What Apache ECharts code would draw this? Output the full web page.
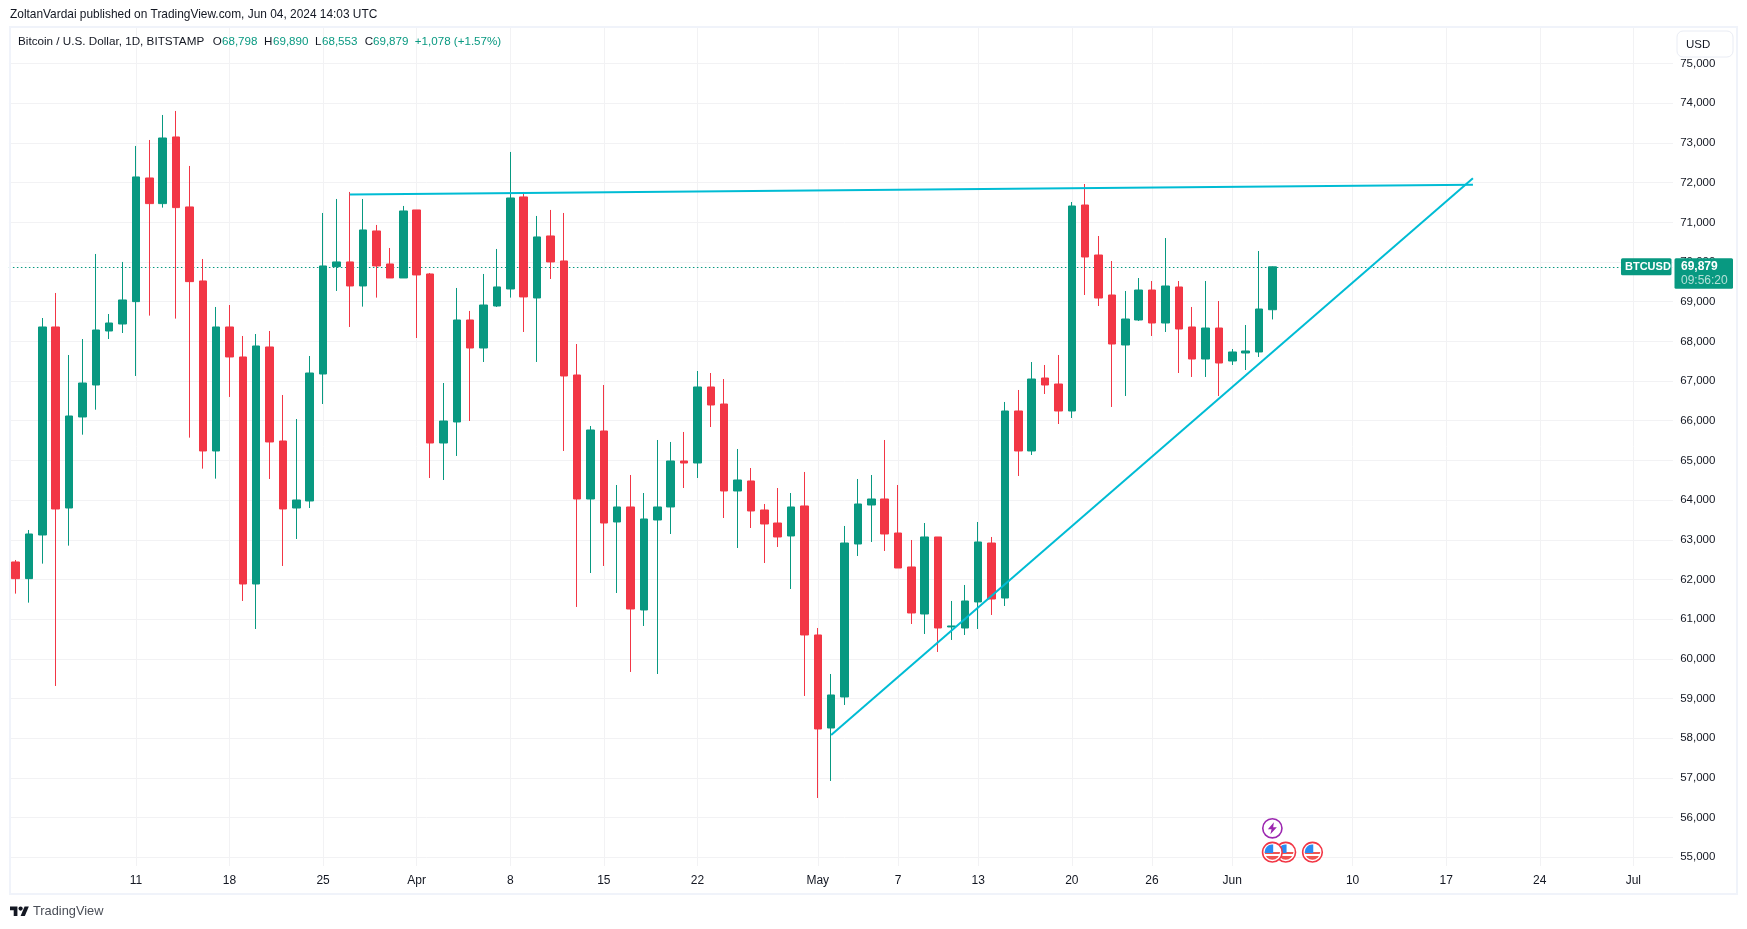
<!DOCTYPE html>
<html><head><meta charset="utf-8">
<style>html,body{margin:0;padding:0;background:#fff}#c{width:1747px;height:929px}</style>
<script src="https://cdn.jsdelivr.net/npm/echarts@6/dist/echarts.min.js"></script>
</head><body><div id="c"></div>
<script>
const categories = [
'Mar 2','Mar 3','Mar 4','Mar 5','Mar 6','Mar 7','Mar 8','Mar 9','Mar 10','Mar 11','Mar 12','Mar 13','Mar 14','Mar 15','Mar 16','Mar 17','Mar 18','Mar 19','Mar 20','Mar 21','Mar 22','Mar 23','Mar 24','Mar 25','Mar 26','Mar 27','Mar 28','Mar 29','Mar 30','Mar 31',
'Apr 1','Apr 2','Apr 3','Apr 4','Apr 5','Apr 6','Apr 7','Apr 8','Apr 9','Apr 10','Apr 11','Apr 12','Apr 13','Apr 14','Apr 15','Apr 16','Apr 17','Apr 18','Apr 19','Apr 20','Apr 21','Apr 22','Apr 23','Apr 24','Apr 25','Apr 26','Apr 27','Apr 28','Apr 29','Apr 30',
'May 1','May 2','May 3','May 4','May 5','May 6','May 7','May 8','May 9','May 10','May 11','May 12','May 13','May 14','May 15','May 16','May 17','May 18','May 19','May 20','May 21','May 22','May 23','May 24','May 25','May 26','May 27','May 28','May 29','May 30','May 31',
'Jun 1','Jun 2','Jun 3','Jun 4','Jun 5','Jun 6','Jun 7','Jun 8','Jun 9','Jun 10','Jun 11','Jun 12','Jun 13','Jun 14','Jun 15','Jun 16','Jun 17','Jun 18','Jun 19','Jun 20','Jun 21','Jun 22','Jun 23','Jun 24','Jun 25','Jun 26','Jun 27','Jun 28','Jun 29','Jun 30',
'Jul 1','Jul 2','Jul 3','Jul 4'];
const tickDates = ['Mar 11','Mar 18','Mar 25','Apr 1','Apr 8','Apr 15','Apr 22','May 1','May 7','May 13','May 20','May 26','Jun 1','Jun 10','Jun 17','Jun 24','Jul 1'];
const tickLabels = ['11','18','25','Apr','8','15','22','May','7','13','20','26','Jun','10','17','24','Jul'];
const priceTicks = [55000,56000,57000,58000,59000,60000,61000,62000,63000,64000,65000,66000,67000,68000,69000,70000,71000,72000,73000,74000,75000];
const opens = [62441,62021,63121,68363,63801,66095,66901,68262,68438,69002,72118,71472,73152,71388,69523,65238,68363,67607,61886,67859,65490,63801,63978,67178,69884,70002,69397,70783,69951,69598,71312,69699,65439,65969,68539,67833,68892,69321,71640,69094,70657,70027,67153,64028,65742,63449,63827,61231,63499,63827,64986,64935,66851,66422,64230,64482,63751,63423,63096,63852,60601,58257,59039,62894,63877,64028,63171,62315,61130,63071,60803,60777,61433,62919,61533,66246,65238,67077,66926,66246,71437,70177,69169,67909,68539,69295,68463,69371,68363,67556,68337,67506,67707,67733,68798];
const closes = [62021,63146,68363,63776,66120,66951,68287,68463,69044,72144,71472,73126,71371,69506,65238,68363,67607,61886,67884,65465,63776,64003,67203,69901,70002,69397,70808,69901,69598,71287,69674,65439,65994,68539,67833,68917,69372,71614,69120,70632,70002,67128,64028,65767,63423,63827,61256,63524,63827,64986,64935,66851,66397,64230,64507,63726,63398,63071,63827,60601,58232,59089,62919,63902,64028,63146,62289,61155,63071,60777,60828,61458,62945,61508,66246,65238,67052,66901,66246,71412,70127,69093,67934,68564,69295,68463,69396,68312,67556,68337,67455,67733,67758,68816,69879];
const lows = [61643,61416,62399,59316,62852,65649,66279,68060,68211,67128,68649,71371,68574,65574,64793,64541,66599,61458,60752,64532,62340,63020,63801,66422,69271,68363,68876,69103,69598,69598,68085,64557,64507,65112,65994,67481,68867,69103,68237,67481,69573,65238,61307,62163,62340,61659,59669,60828,59618,63146,64305,64557,65842,63549,62793,63297,62415,62819,61760,59064,56493,56922,58837,62592,62945,62718,62289,60878,60626,60173,60475,60601,60752,61105,61332,64608,65137,66674,65918,66069,69169,68892,66347,66624,68514,68136,68237,67203,67103,67103,66624,67405,67279,67607,68553];
const highs = [62491,63247,68589,69220,67657,68060,70203,68690,70002,72925,73076,73706,73807,72421,70077,68867,68917,68136,68186,68262,66649,66044,67632,71236,71589,71766,71589,70934,70354,71413,71312,69724,66951,69346,68767,69699,70329,72774,71766,71161,71312,71236,67934,65868,66901,64381,64633,64179,65515,65465,65717,67254,67203,67052,65288,64809,63902,64305,64179,64709,60777,59618,63348,64532,64633,65515,64381,62995,63423,63071,61458,61861,63449,63071,66473,66775,67480,67405,67657,71513,71966,70656,70026,69270,69597,69522,70605,69522,68867,69522,69018,67808,68413,70278,69890];
const lastClose = 69879;
const resistanceDates = ['Mar 27','Jun 19'];
const resistanceValues = [71700,71950];
const supportDates = ['May 2','Jun 19'];
const supportValues = [58081,72110];
const flagEventDates = ['Jun 7','Jun 5','Jun 4'];
const boltEventDates = ['Jun 4'];

const UP='#089981', DOWN='#f23645', LINE='#00bcd4', GRID='#f2f2f4', TEXT='#131722';
const FONT='"Liberation Sans", Arial, sans-serif';

const chart = echarts.init(document.getElementById('c'), null, {renderer:'canvas'});
const candleData = opens.map((o,i)=>[o,closes[i],lows[i],highs[i]]);
const isTick = (i,v)=>tickDates.includes(v);
const trend = (name,dates,values)=>({
  name, type:'line', data:dates.map((d,i)=>[d,values[i]]), symbol:'none', z:6, silent:true,
  lineStyle:{color:LINE,width:2}, clip:false, animation:false
});
chart.setOption({
  animation:false, backgroundColor:'#fff',
  grid:{left:8.9, top:27, width:1671.25, height:839, containLabel:false},
  xAxis:{type:'category', data:categories, boundaryGap:true,
    axisLine:{show:false}, axisTick:{show:false},
    axisLabel:{interval:isTick, formatter:v=>tickLabels[tickDates.indexOf(v)]||'', color:TEXT, fontFamily:FONT, fontSize:12, margin:9, hideOverlap:false},
    splitLine:{show:true, interval:isTick, alignWithLabel:true, lineStyle:{color:GRID,width:1}}},
  yAxis:{type:'value', position:'right', min:54779, max:75923, scale:true,
    axisLine:{show:false}, axisTick:{show:false, customValues:priceTicks},
    axisLabel:{customValues:priceTicks, color:TEXT, fontFamily:FONT, fontSize:11.5, margin:0, showMinLabel:true, showMaxLabel:true, formatter:v=>v.toLocaleString('en-US')},
    splitLine:{show:true, lineStyle:{color:GRID,width:1}}},
  series:[
    {type:'candlestick', data:candleData, barWidth:8, z:3,
      itemStyle:{color:UP,color0:DOWN,borderColor:UP,borderColor0:DOWN,borderColorDoji:UP,borderWidth:1},
      markLine:{symbol:'none', silent:true, z:2, label:{show:false}, lineStyle:{color:UP,type:[1.5,2.5],width:1.2},
        data:[{yAxis:lastClose}], animation:false}},
    trend('resistance',resistanceDates,resistanceValues),
    trend('support',supportDates,supportValues)
  ]
});

const Z=100;
const txt=(x,y,text,fill,size,extra)=>({type:'text',z:Z+2,x,y,silent:true,style:Object.assign({text,fill,font:`${size}px ${FONT}`,textVerticalAlign:'middle'},extra||{})});
const px=d=>chart.convertToPixel({xAxisIndex:0},d);
const yClose=chart.convertToPixel({yAxisIndex:0},lastClose);

const flag=(cx,cy,i)=>({type:'group',x:cx,y:cy,z:Z+i,children:[
  {type:'circle',shape:{r:9.8},z:Z+i,style:{fill:'#fff',stroke:DOWN,lineWidth:1.6}},
  {type:'circle',shape:{r:7.6},z:Z+i,style:{fill:new echarts.graphic.LinearGradient(0,0,0,1,[
     {offset:0,color:'#ffffff'},{offset:.46,color:'#ffffff'},{offset:.46,color:'#ef5350'},{offset:.62,color:'#ef5350'},
     {offset:.62,color:'#ffffff'},{offset:.76,color:'#ffffff'},{offset:.76,color:'#ef5350'},{offset:1,color:'#ef5350'}])}},
  {type:'rect',shape:{x:-7.6,y:-7.6,width:8.4,height:8.4,r:[7,0,0,0]},z:Z+i,style:{fill:'#2a8bf2'}}
]});

const legendBits=[
 [18,'Bitcoin / U.S. Dollar, 1D, BITSTAMP',TEXT],[212.8,'O',TEXT],[222,'68,798',UP],[264,'H',TEXT],[273,'69,890',UP],
 [315,'L',TEXT],[322,'68,553',UP],[364.7,'C',TEXT],[373,'69,879',UP],[414.8,'+1,078 (+1.57%)',UP]];

const graphics=[
  {type:'rect',z:Z-1,silent:true,shape:{x:1673,y:28,width:7.2,height:838},style:{fill:'#fff'}},
  {type:'rect',z:Z-1,silent:true,shape:{x:10,y:27,width:1727,height:867},style:{fill:'none',stroke:'#f0f3fa',lineWidth:2}},
  txt(10,15,'ZoltanVardai published on TradingView.com, Jun 04, 2024 14:03 UTC',TEXT,11.9),
  ...legendBits.map(b=>txt(b[0],41.5,b[1],b[2],b[0]===18?11.7:11.6)),
  {type:'rect',z:Z,silent:true,shape:{x:1677,y:31,width:56,height:26,r:6},style:{fill:'#fff',stroke:'#e9ecf4',lineWidth:1}},
  txt(1686,44.5,'USD',TEXT,11.5),
  {type:'rect',z:Z+1,silent:true,shape:{x:1621,y:yClose-8.5,width:50.5,height:17,r:1.5},style:{fill:UP}},
  txt(1625,yClose+0.3,'BTCUSD','#fff',11,{font:`bold 11px ${FONT}`}),
  {type:'rect',z:Z+1,silent:true,shape:{x:1674.5,y:yClose-8.5,width:58.5,height:30.5,r:1.5},style:{fill:UP}},
  txt(1681,yClose-0.5,'69,879','#fff',12,{font:`bold 12px ${FONT}`}),
  txt(1681,yClose+13.5,'09:56:20','#b5e0d8',12),
  ...flagEventDates.map((d,i)=>flag(px(d),852.2,i)),
  ...boltEventDates.map(d=>({type:'group',x:px(d),y:828.3,z:Z,children:[
    {type:'circle',shape:{r:9.6},z:Z,style:{fill:'#fff',stroke:'#9c27b0',lineWidth:1.6}},
    {type:'polygon',z:Z,shape:{points:[[1.5,-6],[-4.5,1],[-0.8,1],[-2,6],[4.5,-1],[0.8,-1]]},style:{fill:'#9c27b0'}}
  ]})),
  {type:'group',x:10,y:906.5,scaleX:.53,scaleY:.53,silent:true,z:Z,children:[
    {type:'polygon',z:Z,shape:{points:[[0,0],[14,0],[14,18],[7,18],[7,7],[0,7]]},style:{fill:TEXT}},
    {type:'polygon',z:Z,shape:{points:[[27.5,0],[35.5,0],[28,18],[20,18]]},style:{fill:TEXT}},
    {type:'circle',z:Z,shape:{cx:20,cy:4,r:4},style:{fill:TEXT}}
  ]},
  txt(33,911.5,'TradingView','#4a4e57',12.8)
];
chart.setOption({graphic:{elements:graphics}});
</script></body></html>
